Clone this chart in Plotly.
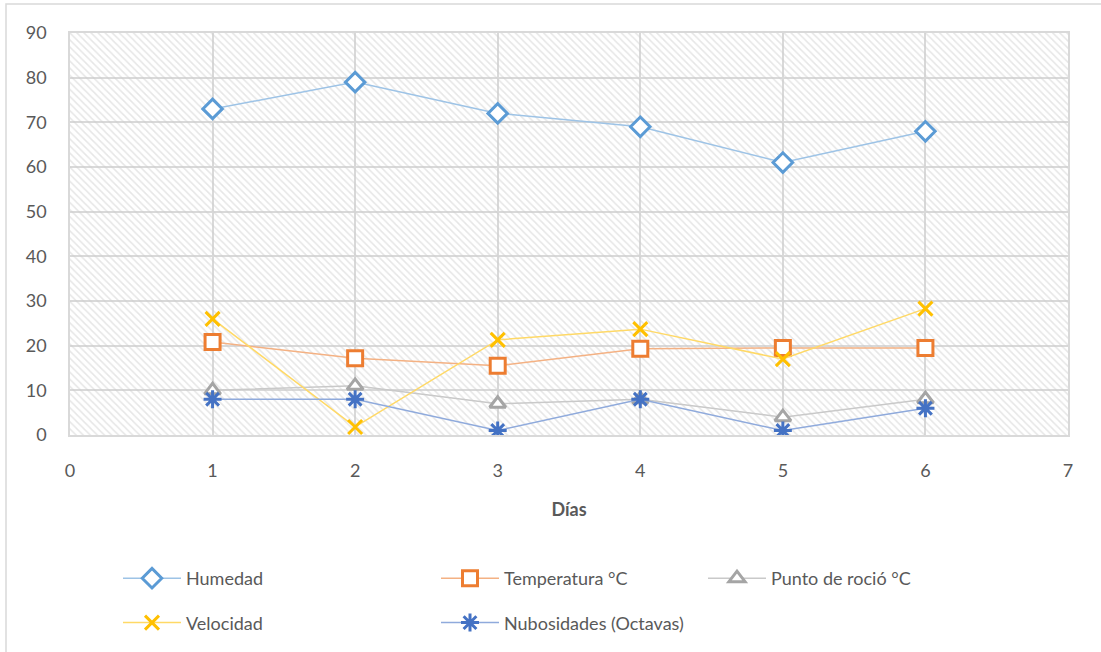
import plotly.graph_objects as go

# Data
dias = [1, 2, 3, 4, 5, 6]
humedad = [73, 79, 72, 69, 61, 68]
temperatura = [20.8, 17.2, 15.5, 19.3, 19.5, 19.5]
punto_rocio = [10, 11, 7, 8, 4, 8]
velocidad = [26, 1.8, 21.3, 23.7, 17, 28.3]
nubosidades = [8, 8, 1, 8, 1, 6]

X_RANGE = [0, 7]
Y_RANGE = [0, 90]

FONT = 'Lato, "Open Sans", sans-serif'
TEXT = '#595959'
GRID = '#d9d9d9'

W, H = 1101, 652
ML, MR, MT, MB = 70, 33, 33, 216
PW, PH = W - ML - MR, H - MT - MB


def px_x(p):
    return (p - ML) / PW


def px_y(p):
    return 1 - (p - MT) / PH


fig = go.Figure()

# Hatched plot-area background (transparent so the grid shows through)
fig.add_trace(go.Scatter(
    x=[X_RANGE[0], X_RANGE[1], X_RANGE[1], X_RANGE[0], X_RANGE[0]],
    y=[Y_RANGE[0], Y_RANGE[0], Y_RANGE[1], Y_RANGE[1], Y_RANGE[0]],
    mode='lines', fill='toself', line=dict(width=0),
    fillcolor='rgba(0,0,0,0)',
    fillpattern=dict(shape='\\', fgcolor='#cdcdcd', bgcolor='rgba(0,0,0,0)',
                     size=5, solidity=0.3),
    hoverinfo='skip', showlegend=False,
))

series = [
    ('Humedad', humedad, '#9dc3e6', '#5b9bd5', 'diamond', 15, 'white', 'legend'),
    ('Temperatura °C', temperatura, '#f4b183', '#ed7d31', 'square', 15, 'white', 'legend2'),
    ('Punto de roció °C', punto_rocio, '#c9c9c9', '#a5a5a5', 'triangle-up', 14, 'white', 'legend3'),
    ('Velocidad', velocidad, '#ffd966', '#ffc000', 'x-thin', 14, '#ffc000', 'legend'),
    ('Nubosidades (Octavas)', nubosidades, '#8faadc', '#4472c4', 'asterisk', 15, '#4472c4', 'legend2'),
]

for name, vals, lcol, mcol, sym, size, fill, leg in series:
    fig.add_trace(go.Scatter(
        x=dias, y=vals, mode='lines+markers', name=name,
        line=dict(color=lcol, width=1.5),
        marker=dict(symbol=sym, size=size, color=fill,
                    line=dict(color=mcol, width=3)),
        legend=leg, legendgroup=name,
    ))

# Outer chart border (only top/left visible in frame)
fig.add_shape(type='rect', xref='paper', yref='paper',
              x0=px_x(6), x1=px_x(1110), y0=px_y(660), y1=px_y(4),
              line=dict(color='#d9d9d9', width=1.5), layer='below')

legend_common = dict(
    orientation='v', xanchor='left', yanchor='top',
    font=dict(family=FONT, size=18, color=TEXT),
    bgcolor='rgba(0,0,0,0)', tracegroupgap=18, itemwidth=58,
)

fig.update_layout(
    width=W, height=H,
    margin=dict(l=ML, r=MR, t=MT, b=MB),
    paper_bgcolor='white', plot_bgcolor='white',
    font=dict(family=FONT, size=18, color=TEXT),
    xaxis=dict(
        range=X_RANGE, dtick=1, tick0=0,
        showgrid=True, gridcolor=GRID, gridwidth=1.5,
        zeroline=False, showline=True, linecolor=GRID, linewidth=1.5, mirror=True,
        ticks='', ticklabelstandoff=19,
        tickfont=dict(family=FONT, size=18, color=TEXT),
        title=dict(text='<b>Días</b>', font=dict(family=FONT, size=18, color=TEXT),
                   standoff=23),
    ),
    yaxis=dict(
        range=Y_RANGE, dtick=10,
        showgrid=True, gridcolor=GRID, gridwidth=1.5,
        zeroline=False, showline=True, linecolor=GRID, linewidth=1.5, mirror=True,
        ticks='', ticklabelstandoff=18,
        tickfont=dict(family=FONT, size=18, color=TEXT),
    ),
    legend=dict(x=px_x(118), y=px_y(560), **legend_common),
    legend2=dict(x=px_x(436), y=px_y(560), **legend_common),
    legend3=dict(x=px_x(703), y=px_y(560), **legend_common),
)

fig.write_html("out.html", config={'displayModeBar': False},
               post_script="document.body.style.margin='0';")
